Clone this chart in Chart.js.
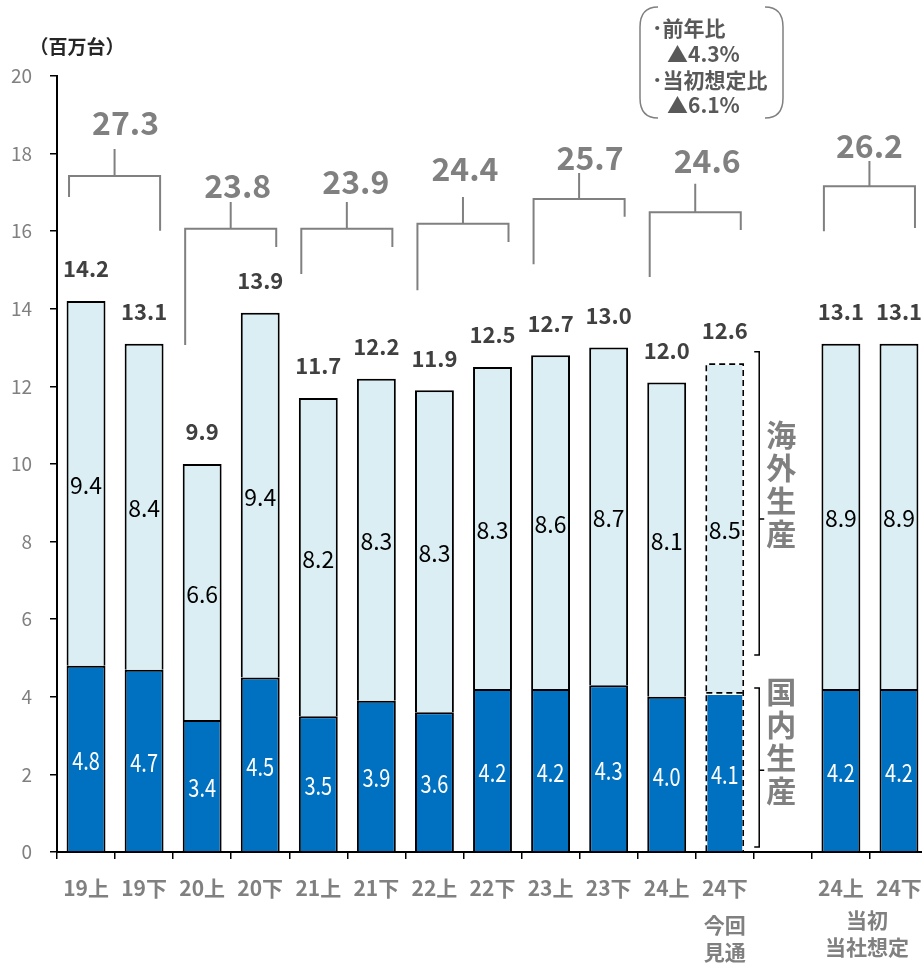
<!DOCTYPE html>
<html>
<head>
<meta charset="utf-8">
<script src="https://cdn.jsdelivr.net/npm/chart.js@4.4.1/dist/chart.umd.min.js"></script>
<style>
  html, body { margin: 0; background: #fff; overflow: hidden; }
  #wrap { width: 928px; height: 963px; position: relative; }
</style>
</head>
<body>
<div id="wrap"><canvas id="prodChart" width="928" height="963" style="width:928px;height:963px"></canvas></div>
<script>
// --- data ---
const categories = ['19上', '19下', '20上', '20下', '21上', '21下', '22上', '22下', '23上', '23下', '24上', '24下', '', '24上', '24下'];
const domestic = [4.8, 4.7, 3.4, 4.5, 3.5, 3.9, 3.6, 4.2, 4.2, 4.3, 4.0, 4.1, null, 4.2, 4.2];
const overseas = [9.4, 8.4, 6.6, 9.4, 8.2, 8.3, 8.3, 8.3, 8.6, 8.7, 8.1, 8.5, null, 8.9, 8.9];
const totals = [14.2, 13.1, 9.9, 13.9, 11.7, 12.2, 11.9, 12.5, 12.7, 13.0, 12.0, 12.6, null, 13.1, 13.1];
const annualTotals = [27.3, 23.8, 23.9, 24.4, 25.7, 24.6, 26.2];
const annualPairs = [[0, 1], [2, 3], [4, 5], [6, 7], [8, 9], [10, 11], [13, 14]];
const forecastIndex = 11;
const forecastSub = ['今回', '見通'];
const planSub = ['当初', '当社想定'];
const noteLines = ['･前年比', '▲4.3%', '･当初想定比', '▲6.1%'];

// bracket shapes in axis units: crossbar, left leg end, right leg end, stem top, label; then label shift in px
const bracketShape = [
    [17.42, 16.88, 16.01, 18.12, 18.79, 11],
    [16.06, 13.07, 15.59, 16.75, 17.18, 7],
    [16.06, 14.90, 15.59, 16.75, 17.26, 9],
    [16.19, 14.48, 15.72, 16.88, 17.60, 2],
    [16.83, 15.15, 16.37, 17.50, 17.90, 11],
    [16.49, 14.82, 16.03, 17.22, 17.81, 12],
    [17.16, 16.00, 16.08, 17.81, 18.20, 0]
];

const JP = '"Noto Sans CJK JP", sans-serif';
const GREY = '#808080';

function txt(ctx, s, x, y, font, color, align, squeeze) {
    ctx.save();
    ctx.font = font;
    ctx.fillStyle = color;
    ctx.textAlign = align || 'center';
    ctx.textBaseline = 'middle';
    ctx.translate(x, y);
    if (squeeze) ctx.scale(squeeze, 1);
    ctx.fillText(s, 0, 0);
    ctx.restore();
}

const overlay = {
    id: 'overlay',
    afterDatasetsDraw(chart) {
        const { ctx, scales: { x, y } } = chart;
        const dom = chart.getDatasetMeta(0).data;
        const ovs = chart.getDatasetMeta(1).data;
        ctx.save();

        // dashed outline for the forecast bar
        const d = dom[forecastIndex], o = ovs[forecastIndex];
        const l = d.x - d.width / 2 + 1, r = d.x + d.width / 2 - 1;
        ctx.strokeStyle = '#000';
        ctx.lineWidth = 1.6;
        ctx.setLineDash([6, 4]);
        ctx.beginPath();
        ctx.moveTo(l, d.base); ctx.lineTo(l, o.y + 1); ctx.lineTo(r, o.y + 1); ctx.lineTo(r, d.base);
        ctx.moveTo(l, d.y); ctx.lineTo(r, d.y);
        ctx.stroke();
        ctx.setLineDash([]);

        // values in bars and totals above
        categories.forEach((c, i) => {
            if (domestic[i] == null) return;
            txt(ctx, domestic[i].toFixed(1), dom[i].x, (dom[i].y + dom[i].base) / 2 + 2, '25px ' + JP, '#fff', 'center', 0.8);
            txt(ctx, overseas[i].toFixed(1), ovs[i].x, (ovs[i].y + ovs[i].base) / 2 + 2, '23px ' + JP, '#000');
            txt(ctx, totals[i].toFixed(1), ovs[i].x, ovs[i].y - 32, 'bold 22px ' + JP, '#404040');
        });

        // category labels
        categories.forEach((c, i) => {
            if (c) txt(ctx, c, x.getPixelForValue(i), 888, 'bold 21px ' + JP, GREY);
        });
        const fx = x.getPixelForValue(forecastIndex);
        txt(ctx, forecastSub[0], fx, 925, 'bold 21px ' + JP, GREY);
        txt(ctx, forecastSub[1], fx, 952, 'bold 21px ' + JP, GREY);
        const px = (x.getPixelForValue(13) + x.getPixelForValue(14)) / 2 - 3;
        txt(ctx, planSub[0], px, 920, 'bold 21px ' + JP, GREY);
        txt(ctx, planSub[1], px, 947, 'bold 21px ' + JP, GREY);

        // annual brackets
        ctx.strokeStyle = GREY;
        ctx.lineWidth = 2;
        annualPairs.forEach((p, k) => {
            const s = bracketShape[k];
            const xl = x.getPixelForValue(p[0]) - 17, xr = x.getPixelForValue(p[1]) + 16;
            const xm = (xl + xr) / 2;
            const yb = y.getPixelForValue(s[0]);
            ctx.beginPath();
            ctx.moveTo(xl, y.getPixelForValue(s[1])); ctx.lineTo(xl, yb); ctx.lineTo(xr, yb); ctx.lineTo(xr, y.getPixelForValue(s[2]));
            ctx.moveTo(xm, yb); ctx.lineTo(xm, y.getPixelForValue(s[3]));
            ctx.stroke();
            txt(ctx, annualTotals[k].toFixed(1), xm + s[5], y.getPixelForValue(s[4]), 'bold 32px ' + JP, GREY);
        });

        // side braces for 海外生産 / 国内生産
        const bx = r + 16;
        ctx.strokeStyle = '#000';
        ctx.lineWidth = 1.5;
        const brace = (v0, v1, vm) => {
            const y0 = y.getPixelForValue(v0), y1 = y.getPixelForValue(v1), ym = y.getPixelForValue(vm);
            ctx.beginPath();
            ctx.moveTo(bx - 5, y0); ctx.lineTo(bx, y0); ctx.lineTo(bx, y1); ctx.lineTo(bx - 5, y1);
            ctx.moveTo(bx, ym); ctx.lineTo(bx + 5, ym);
            ctx.stroke();
        };
        brace(12.89, 5.08, 8.58);
        brace(4.23, 0.13, 2.11);
        ['海', '外', '生', '産'].forEach((ch, j) => txt(ctx, ch, bx + 22, 435 + j * 33, 'bold 30px ' + JP, GREY));
        ['国', '内', '生', '産'].forEach((ch, j) => txt(ctx, ch, bx + 22, 692 + j * 33, 'bold 30px ' + JP, GREY));

        // note box
        ctx.strokeStyle = GREY;
        ctx.lineWidth = 1.5;
        ctx.beginPath();
        ctx.moveTo(658, 7); ctx.quadraticCurveTo(640, 7, 640, 27); ctx.lineTo(640, 98); ctx.quadraticCurveTo(640, 118, 658, 118);
        ctx.moveTo(765, 7); ctx.quadraticCurveTo(783, 7, 783, 27); ctx.lineTo(783, 98); ctx.quadraticCurveTo(783, 118, 765, 118);
        ctx.stroke();
        txt(ctx, noteLines[0], 652, 28, 'bold 21px ' + JP, '#595959', 'left');
        txt(ctx, noteLines[1], 667, 54, 'bold 21px ' + JP, '#595959', 'left');
        txt(ctx, noteLines[2], 652, 80, 'bold 21px ' + JP, '#595959', 'left');
        txt(ctx, noteLines[3], 667, 105, 'bold 21px ' + JP, '#595959', 'left');

        // unit
        txt(ctx, '（百万台）', 77, 47, 'bold 19px ' + JP, '#262626');

        ctx.restore();
    }
};

const edge = (arr) => arr.map((v, i) => i === forecastIndex ? 'rgba(0,0,0,0)' : '#000');

new Chart(document.getElementById('prodChart'), {
    type: 'bar',
    data: {
        labels: categories,
        datasets: [
            { label: '国内生産', data: domestic, backgroundColor: '#0070C0', borderColor: edge(domestic), borderWidth: 2, stack: 's' },
            { label: '海外生産', data: overseas, backgroundColor: '#DAEEF3', borderColor: edge(overseas), borderWidth: 2, stack: 's' }
        ]
    },
    options: {
        responsive: false,
        animation: false,
        layout: { padding: { top: 76, left: 0, right: 0, bottom: 0 } },
        datasets: { bar: { barPercentage: 0.67, categoryPercentage: 1 } },
        plugins: { legend: { display: false }, tooltip: { enabled: false } },
        scales: {
            x: {
                stacked: true,
                border: { display: true, color: '#000', width: 2 },
                grid: { display: true, drawOnChartArea: false, color: '#000', lineWidth: 1.5, tickLength: 7, offset: true },
                ticks: { display: false },
                afterFit: (s) => { s.height = 111; }
            },
            y: {
                stacked: true,
                min: 0, max: 20,
                border: { display: true, color: '#000', width: 2 },
                grid: { display: true, drawOnChartArea: false, color: '#000', lineWidth: 1.5, tickLength: 7 },
                ticks: { stepSize: 2, color: GREY, font: { family: JP, size: 19 }, padding: 18 },
                afterFit: (s) => { s.width = 57; }
            }
        }
    },
    plugins: [overlay]
});
</script>
</body>
</html>
